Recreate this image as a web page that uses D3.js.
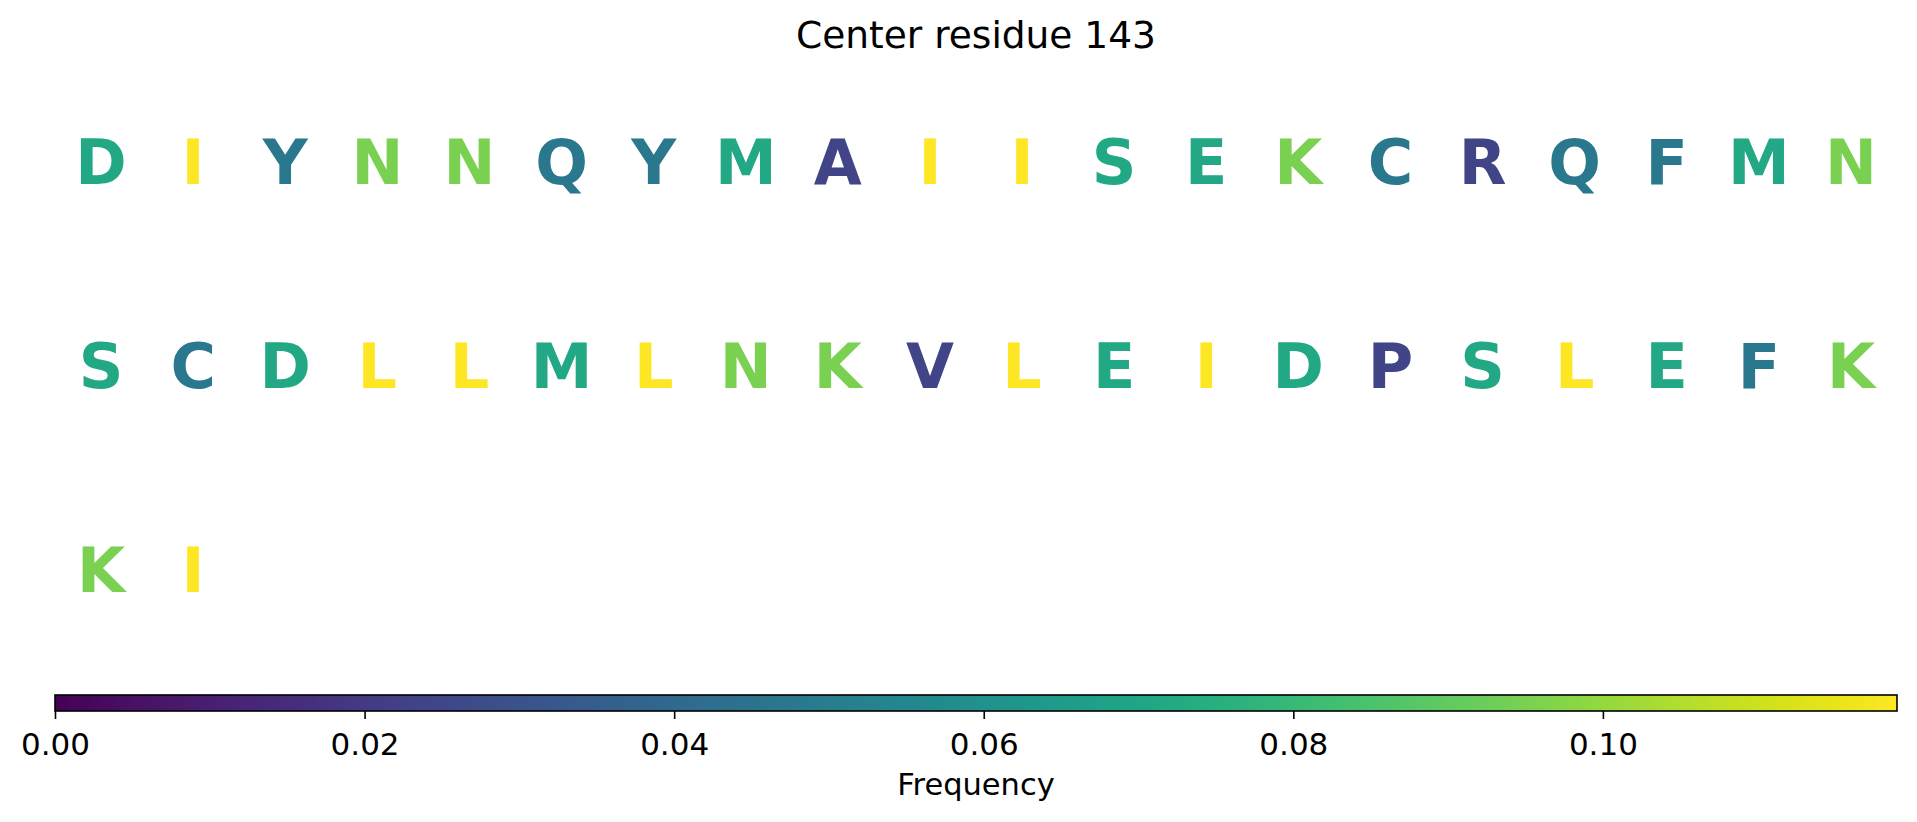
<!DOCTYPE html>
<html>
<head>
<meta charset="utf-8">
<script src="https://cdn.jsdelivr.net/npm/d3@7"></script>
<style>
  html, body { margin: 0; padding: 0; background: #fff; }
  svg { display: block; }
  text { font-family: "DejaVu Sans", sans-serif; }
</style>
</head>
<body>
<script>
// ---- data ----
const titleText = "Center residue 143";
const residues = [
  "D","I","Y","N","N","Q","Y","M","A","I","I","S","E","K","C","R","Q","F","M","N",
  "S","C","D","L","L","M","L","N","K","V","L","E","I","D","P","S","L","E","F","K",
  "K","I"
];
const frequencies = [
  0.0714,0.1190,0.0476,0.0952,0.0952,0.0476,0.0476,0.0714,0.0238,0.1190,0.1190,0.0714,0.0714,0.0952,0.0476,0.0238,0.0476,0.0476,0.0714,0.0952,
  0.0714,0.0476,0.0714,0.1190,0.1190,0.0714,0.1190,0.0952,0.0952,0.0238,0.1190,0.0714,0.1190,0.0714,0.0238,0.0714,0.1190,0.0714,0.0476,0.0952,
  0.0952,0.1190
];
const colorMin = 0.0;
const colorMax = 0.1190;
const tickValues = [0.00, 0.02, 0.04, 0.06, 0.08, 0.10];
const tickLabels = ["0.00", "0.02", "0.04", "0.06", "0.08", "0.10"];
const colorbarLabel = "Frequency";
const perRow = 20;

// ---- layout ----
const W = 1917, H = 822;
const plotLeft = 55, plotRight = 1897;
const plotTop = 59, plotBottom = 672;
const nRows = Math.ceil(residues.length / perRow);

const svg = d3.select("body").append("svg").attr("width", W).attr("height", H);

const x = d3.scaleBand().domain(d3.range(perRow)).range([plotLeft, plotRight]);
const y = d3.scaleBand().domain(d3.range(nRows)).range([plotTop, plotBottom]);
const color = d3.scaleSequential(d3.interpolateViridis).domain([colorMin, colorMax]);

// title
svg.append("text")
  .attr("x", (plotLeft + plotRight) / 2)
  .attr("y", 48)
  .attr("text-anchor", "middle")
  .attr("font-size", 37.5)
  .attr("fill", "#000")
  .text(titleText);

// letters
const fs = 62;
svg.append("g").selectAll("text")
  .data(residues.map((r, i) => ({ r, f: frequencies[i], i })))
  .join("text")
  .attr("x", d => x(d.i % perRow) + x.bandwidth() / 2)
  .attr("y", d => y(Math.floor(d.i / perRow)) + y.bandwidth() / 2 + 0.3645 * fs)
  .attr("text-anchor", "middle")
  .attr("font-size", fs)
  .attr("font-weight", "bold")
  .attr("fill", d => color(d.f))
  .text(d => d.r);

// colorbar
const cbTop = 695, cbH = 16;
const cx = d3.scaleLinear().domain([colorMin, colorMax]).range([plotLeft, plotRight]);
const defs = svg.append("defs");
const grad = defs.append("linearGradient").attr("id", "cbgrad")
  .attr("x1", "0%").attr("x2", "100%").attr("y1", "0%").attr("y2", "0%");
d3.range(0, 1.0001, 0.02).forEach(t => {
  grad.append("stop").attr("offset", (t * 100) + "%").attr("stop-color", d3.interpolateViridis(t));
});
svg.append("rect")
  .attr("x", cx(colorMin)).attr("y", cbTop)
  .attr("width", cx(colorMax) - cx(colorMin)).attr("height", cbH)
  .attr("fill", "url(#cbgrad)")
  .attr("stroke", "#000").attr("stroke-width", 1.6);

const axis = d3.axisBottom(cx)
  .tickValues(tickValues)
  .tickFormat((d, i) => tickLabels[i])
  .tickSize(8)
  .tickPadding(14);
const ag = svg.append("g").attr("transform", `translate(0,${cbTop + cbH})`).call(axis);
ag.select(".domain").remove();
ag.selectAll(".tick line").attr("stroke", "#000").attr("stroke-width", 1.6);
ag.selectAll(".tick text")
  .attr("font-size", 31)
  .attr("font-family", "DejaVu Sans")
  .attr("fill", "#000");

svg.append("text")
  .attr("x", (plotLeft + plotRight) / 2)
  .attr("y", 795)
  .attr("text-anchor", "middle")
  .attr("font-size", 30.5)
  .attr("fill", "#000")
  .text(colorbarLabel);
</script>
</body>
</html>
